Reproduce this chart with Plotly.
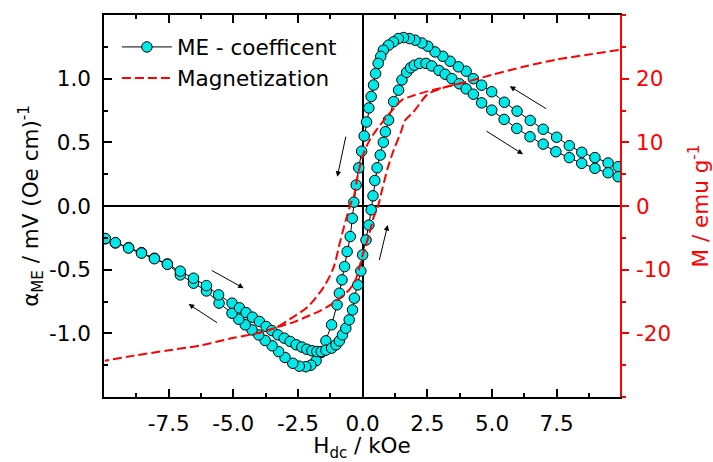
import plotly.graph_objects as go

# ---------------- data ----------------
# ME coefficient, field decreasing (+10 -> -10 kOe)
ME_dn_H = [9.88, 9.49, 8.98, 8.47, 7.99, 7.50, 6.98, 6.48, 5.97, 5.48,
           4.99, 4.60, 4.28, 4.00, 3.70, 3.38, 3.10, 2.80, 2.52, 2.29,
           2.03, 1.81, 1.58, 1.38, 1.19, 1.00, 0.80, 0.70, 0.60, 0.50,
           0.42, 0.33, 0.24, 0.15, 0.06, -0.04, -0.15, -0.25, -0.34, -0.40,
           -0.48, -0.60, -0.70, -0.80, -0.90, -0.99, -1.20, -1.42, -1.60, -1.80,
           -2.00, -2.20, -2.45, -2.70, -3.00, -3.25, -3.50, -3.77, -4.02, -4.28,
           -4.54, -4.79, -5.05, -5.55, -6.04, -6.54, -7.05, -7.55, -8.05, -8.55,
           -9.05, -9.56, -9.95]
ME_dn_val = [0.309, 0.338, 0.380, 0.422, 0.474, 0.540, 0.603, 0.672, 0.745, 0.815,
             0.897, 0.949, 1.000, 1.059, 1.093, 1.137, 1.176, 1.210, 1.255, 1.280,
             1.302, 1.315, 1.323, 1.315, 1.289, 1.263, 1.224, 1.175, 1.120, 1.040,
             0.950, 0.860, 0.770, 0.660, 0.550, 0.430, 0.300, 0.165, 0.030, -0.097,
             -0.240, -0.358, -0.476, -0.580, -0.685, -0.776, -0.933, -1.059, -1.150, -1.215,
             -1.250, -1.262, -1.258, -1.235, -1.190, -1.143, -1.098, -1.056, -1.012, -0.973,
             -0.933, -0.889, -0.842, -0.763, -0.667, -0.606, -0.541, -0.455, -0.410, -0.366,
             -0.327, -0.290, -0.258]

# ME coefficient, field increasing (-10 -> +10 kOe)
ME_up_H = [-9.95, -9.56, -9.05, -8.55, -8.05, -7.55, -7.05, -6.54, -6.04, -5.57,
           -5.05, -4.76, -4.51, -4.26, -3.99, -3.73, -3.51, -3.28, -3.03, -2.80,
           -2.57, -2.35, -2.16, -1.96, -1.77, -1.60, -1.42, -1.20, -1.03, -0.90,
           -0.78, -0.65, -0.52, -0.39, -0.32, -0.19, -0.07, 0.00, 0.13, 0.24,
           0.33, 0.40, 0.47, 0.56, 0.68, 0.80, 0.88, 1.00, 1.20, 1.39,
           1.52, 1.70, 1.85, 2.00, 2.20, 2.45, 2.67, 2.95, 3.19, 3.45,
           3.74, 4.00, 4.28, 4.60, 4.99, 5.47, 5.96, 6.47, 6.98, 7.47,
           7.99, 8.47, 8.98, 9.49, 9.88]
ME_up_val = [-0.255, -0.288, -0.330, -0.370, -0.414, -0.458, -0.512, -0.567, -0.625, -0.698,
             -0.763, -0.800, -0.837, -0.873, -0.907, -0.946, -0.978, -1.012, -1.038, -1.064,
             -1.090, -1.108, -1.125, -1.137, -1.143, -1.143, -1.132, -1.116, -1.090, -1.059,
             -1.012, -0.960, -0.894, -0.816, -0.724, -0.620, -0.510, -0.384, -0.267, -0.150,
             -0.030, 0.080, 0.200, 0.300, 0.400, 0.500, 0.583, 0.675, 0.820, 0.910,
             0.990, 1.050, 1.085, 1.106, 1.120, 1.120, 1.100, 1.065, 1.035, 1.000,
             0.960, 0.920, 0.878, 0.810, 0.753, 0.680, 0.609, 0.544, 0.486, 0.426,
             0.380, 0.335, 0.296, 0.261, 0.230]

# Magnetization (emu/g), field decreasing (full sweep)
M_dn_H = [9.9, 8.75, 7.5, 6.25, 5.0, 4.0, 3.0, 2.5, 2.0, 1.5, 1.2, 0.95, 0.6, 0.37,
          0.2, 0.04, -0.16, -0.34, -0.45, -0.6, -0.86, -1.12, -1.5, -2.14, -2.79,
          -3.3, -4.08, -4.98, -6.27, -7.55, -8.84, -9.97]
M_dn_val = [24.5, 23.8, 23.0, 21.9, 20.6, 19.5, 18.5, 18.0, 17.4, 16.6, 15.3, 14.1, 12.3, 11.0,
            9.8, 8.3, 5.4, 1.5, 0.5, -1.5, -5.4, -9.6, -12.7, -15.9, -17.7,
            -19.0, -20.0, -20.7, -21.9, -22.7, -23.5, -24.3]

# Magnetization (emu/g), field increasing: only the part that departs from
# the decreasing branch (the saturated tails coincide with it)
M_up_H = [-3.3, -2.64, -2.06, -1.61, -0.98,
          -0.53, -0.28, 0.0, 0.24, 0.43, 0.59, 0.75, 0.95, 1.2, 1.46, 1.65, 1.97, 2.5,
          3.0, 4.0]
M_up_val = [-19.0, -18.2, -17.2, -16.4, -14.8,
            -13.2, -11.7, -7.7, -4.6, -1.7, -0.1, 2.5, 5.7, 8.8, 11.4, 13.5, 14.8, 17.5,
            18.4, 19.5]

# Sweep-direction arrows: (tail H, tail ME, head H, head ME)
ARROWS = [(7.15, 0.757, 5.69, 0.94),
          (4.73, 0.595, 6.20, 0.407),
          (-5.89, -0.50, -4.60, -0.645),
          (-5.57, -0.924, -6.73, -0.77),
          (-0.64, 0.556, -0.98, 0.23),
          (0.63, -0.436, 0.97, -0.149)]

# tick labels
X_TICKS = [-7.5, -5.0, -2.5, 0.0, 2.5, 5.0, 7.5]
X_LABELS = ["-7.5", "-5.0", "-2.5", "0.0", "2.5", "5.0", "7.5"]
Y_TICKS = [-1.0, -0.5, 0.0, 0.5, 1.0]
Y_LABELS = ["-1.0", "-0.5", "0.0", "0.5", "1.0"]
Y2_TICKS = [-20, -10, 0, 10, 20]
Y2_LABELS = ["-20", "-10", "0", "10", "20"]

# ---------------- figure ----------------
CYAN = "#00e8e8"
FONT = "DejaVu Sans, Liberation Sans, Arial, sans-serif"
FS = 21.5

fig = go.Figure()
me_style = dict(mode="lines+markers",
                line=dict(color="black", width=1),
                marker=dict(size=10.5, color=CYAN, line=dict(color="black", width=1)))
fig.add_trace(go.Scatter(x=ME_dn_H, y=ME_dn_val, name="ME - coefficent",
                         showlegend=True, **me_style))
fig.add_trace(go.Scatter(x=ME_up_H, y=ME_up_val, name="ME - coefficent",
                         showlegend=False, **me_style))
m_style = dict(mode="lines", yaxis="y2",
               line=dict(color="#ff0000", width=2, dash="9px,4px", shape="spline", smoothing=0.8))
fig.add_trace(go.Scatter(x=M_dn_H, y=M_dn_val, name="Magnetization",
                         showlegend=True, **m_style))
fig.add_trace(go.Scatter(x=M_up_H, y=M_up_val, name="Magnetization",
                         showlegend=False, **m_style))

for tx, ty, hx, hy in ARROWS:
    fig.add_annotation(x=hx, y=hy, ax=tx, ay=ty, xref="x", yref="y",
                       axref="x", ayref="y", text="", showarrow=True,
                       arrowhead=2, arrowsize=1.1, arrowwidth=1, arrowcolor="black",
                       standoff=0, startstandoff=0)

fig.update_layout(
    width=713, height=462,
    margin=dict(l=104, r=93, t=15, b=65, autoexpand=False),
    paper_bgcolor="white", plot_bgcolor="white",
    font=dict(family=FONT, size=FS, color="black"),
    showlegend=True,
    legend=dict(x=0.025, y=0.97, xanchor="left", yanchor="top",
                bgcolor="rgba(0,0,0,0)", font=dict(size=FS), itemwidth=50,
                tracegroupgap=0),
    xaxis=dict(range=[-10, 9.95], automargin=False, showgrid=False, showline=True,
               linecolor="black",
               linewidth=1.5, mirror="ticks", ticks="inside", ticklen=8, tickwidth=1.5,
               tickcolor="black", tickmode="array", tickvals=X_TICKS, ticktext=X_LABELS,
               minor=dict(ticks="inside", ticklen=4, tickwidth=1.5, tickcolor="black",
                          tickmode="linear", tick0=0, dtick=1.25),
               zeroline=True, zerolinecolor="black", zerolinewidth=1.5,
               ticklabelstandoff=6,
               title=dict(text="H<sub>dc</sub> / kOe", standoff=16,
                          font=dict(size=FS))),
    yaxis=dict(range=[-1.5, 1.5], automargin=False, showgrid=False, showline=True,
               linecolor="black",
               linewidth=1.5, mirror=False, ticks="inside", ticklen=8, tickwidth=1.5,
               tickcolor="black", tickmode="array", tickvals=Y_TICKS, ticktext=Y_LABELS,
               minor=dict(ticks="inside", ticklen=4, tickwidth=1.5, tickcolor="black",
                          tickmode="linear", tick0=0, dtick=0.25),
               zeroline=True, zerolinecolor="black", zerolinewidth=1.5,
               ticklabelstandoff=7,
               title=dict(text="α<sub>ME</sub> / mV (Oe cm)<sup>-1</sup>", standoff=4,
                          font=dict(size=FS))),
    yaxis2=dict(overlaying="y", side="right", anchor="x", range=[-30, 30],
                automargin=False,
                showgrid=False, showline=True, linecolor="#ff0000", linewidth=1.5,
                ticks="outside", ticklen=7, tickwidth=1.5, tickcolor="#ff0000",
                tickmode="array", tickvals=Y2_TICKS, ticktext=Y2_LABELS,
                tickfont=dict(color="#ff0000", size=FS),
                minor=dict(ticks="outside", ticklen=4, tickwidth=1.5, tickcolor="#ff0000",
                           tickmode="linear", tick0=0, dtick=5),
                zeroline=False, ticklabelstandoff=3,
                title=dict(text="M / emu g<sup>-1</sup>", standoff=28,
                           font=dict(color="#ff0000", size=FS))),
)

fig.write_html("out.html")
